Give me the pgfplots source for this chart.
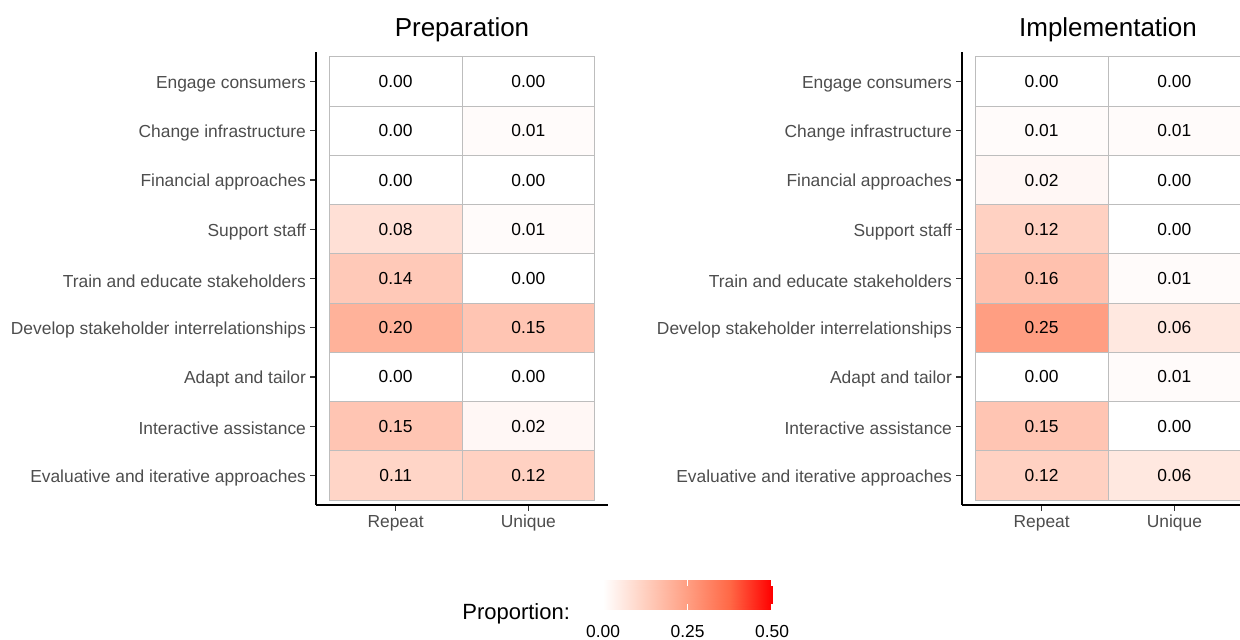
\documentclass[border=0pt]{standalone}
\usepackage{pgfplots}
\pgfplotsset{compat=1.18}
\usepackage{pgfplotstable}
\usepackage{fontspec}
\setmainfont{Liberation Sans}
\definecolor{lab}{HTML}{4D4D4D}
\definecolor{cellgrid}{HTML}{BDBDBD}

% one tile of the heat map: 1 x-unit (66.364pt) by 1 y-unit (24.620pt), grey border
\pgfdeclareplotmark{cell}{%
  \pgfpathrectangle{\pgfpoint{-33.182pt}{-12.310pt}}{\pgfpoint{66.364pt}{24.620pt}}%
  \pgfsetstrokecolor{cellgrid}\pgfsetlinewidth{0.5pt}\pgfusepathqfillstroke}

\pgfplotstableread{
x y c
1 1 0.11
2 1 0.12
1 2 0.15
2 2 0.02
1 3 0.00
2 3 0.00
1 4 0.20
2 4 0.15
1 5 0.14
2 5 0.00
1 6 0.08
2 6 0.01
1 7 0.00
2 7 0.00
1 8 0.00
2 8 0.01
1 9 0.00
2 9 0.00
}\prep

\pgfplotstableread{
x y c
1 1 0.12
2 1 0.06
1 2 0.15
2 2 0.00
1 3 0.00
2 3 0.01
1 4 0.25
2 4 0.06
1 5 0.16
2 5 0.01
1 6 0.12
2 6 0.00
1 7 0.02
2 7 0.00
1 8 0.01
2 8 0.01
1 9 0.00
2 9 0.00
}\impl

\pgfplotsset{
  /pgf/number format/assume math mode=true,
  colormap={wr}{rgb255(0)=(255,255,255) rgb255(1)=(255,207,191) rgb255(2)=(255,158,130) rgb255(3)=(255,104,70) rgb255(4)=(255,0,0)},
  hm/.style={
    scale only axis, width=146pt, height=226.5pt,
    xmin=0.4, xmax=2.6, ymin=0.4, ymax=9.6,
    axis x line*=bottom, axis y line*=left,
    axis line style={black, line width=0.9pt, -},
    xtick={1,2}, xticklabels={Repeat,Unique},
    ytick={1,...,9},
    yticklabels={Evaluative and iterative approaches, Interactive assistance, Adapt and tailor, Develop stakeholder interrelationships, Train and educate stakeholders, Support staff, Financial approaches, Change infrastructure, Engage consumers},
    tick align=outside, major tick length=3pt,
    tick style={black!80, line width=0.6pt},
    ticklabel style={font=\fontsize{8.7}{10}\selectfont, text=lab},
    yticklabel style={xshift=1.5pt, yshift=-1.2pt},
    xticklabel style={yshift=1.5pt},
    point meta min=0, point meta max=0.5,
    title style={font=\fontsize{13}{15}\selectfont, anchor=base, at={(0.5,1)}, yshift=2pt},
    clip=false,
  },
  heatcells/.style={scatter, only marks, mark=cell, point meta=explicit,
    scatter/use mapped color={draw=mapped color, fill=mapped color}},
  celllabels/.style={only marks, mark=none, point meta=explicit, forget plot,
    nodes near coords={\pgfmathprintnumber[fixed,fixed zerofill,precision=2]{\pgfplotspointmeta}},
    every node near coord/.append style={font=\fontsize{8.7}{10}\selectfont, text=black, anchor=center}},
}

\begin{document}
\begin{tikzpicture}
\begin{axis}[hm, at={(158pt,67.5pt)}, anchor=south west, title={Preparation}]
\addplot[heatcells] table[x=x, y=y, meta=c] {\prep};
\addplot[celllabels] table[x=x, y=y, meta=c] {\prep};
\end{axis}
\begin{axis}[hm, at={(481pt,67.5pt)}, anchor=south west, title={Implementation}]
\addplot[heatcells] table[x=x, y=y, meta=c] {\impl};
\addplot[celllabels] table[x=x, y=y, meta=c] {\impl};
\end{axis}
% colour bar
\begin{axis}[at={(301.5pt,15pt)}, anchor=south west, scale only axis, width=84.5pt, height=15pt,
  xmin=0, xmax=0.5, ymin=0, ymax=1, point meta min=0, point meta max=0.5,
  axis line style={draw=none}, ytick=\empty,
  xtick={0,0.25,0.5}, xticklabels={0.00,0.25,0.50},
  tick align=inside, major tick length=3pt, xtick pos=both, xticklabel pos=lower,
  xtick style={white, line width=0.6pt},
  xticklabel style={font=\fontsize{8.7}{10}\selectfont, text=black, yshift=-4pt},
  axis on top]
\addplot[surf, shader=interp, point meta=x, mesh/rows=2, mesh/cols=2] coordinates {(0,0) (0.5,0) (0,1) (0.5,1)};
\end{axis}
\node[anchor=base east, font=\fontsize{11}{13}\selectfont, text=black] at (288.5pt,10pt) {Proportion:};
\pgfresetboundingbox
\useasboundingbox (0,0) rectangle (620pt,320pt);
\end{tikzpicture}
\end{document}
